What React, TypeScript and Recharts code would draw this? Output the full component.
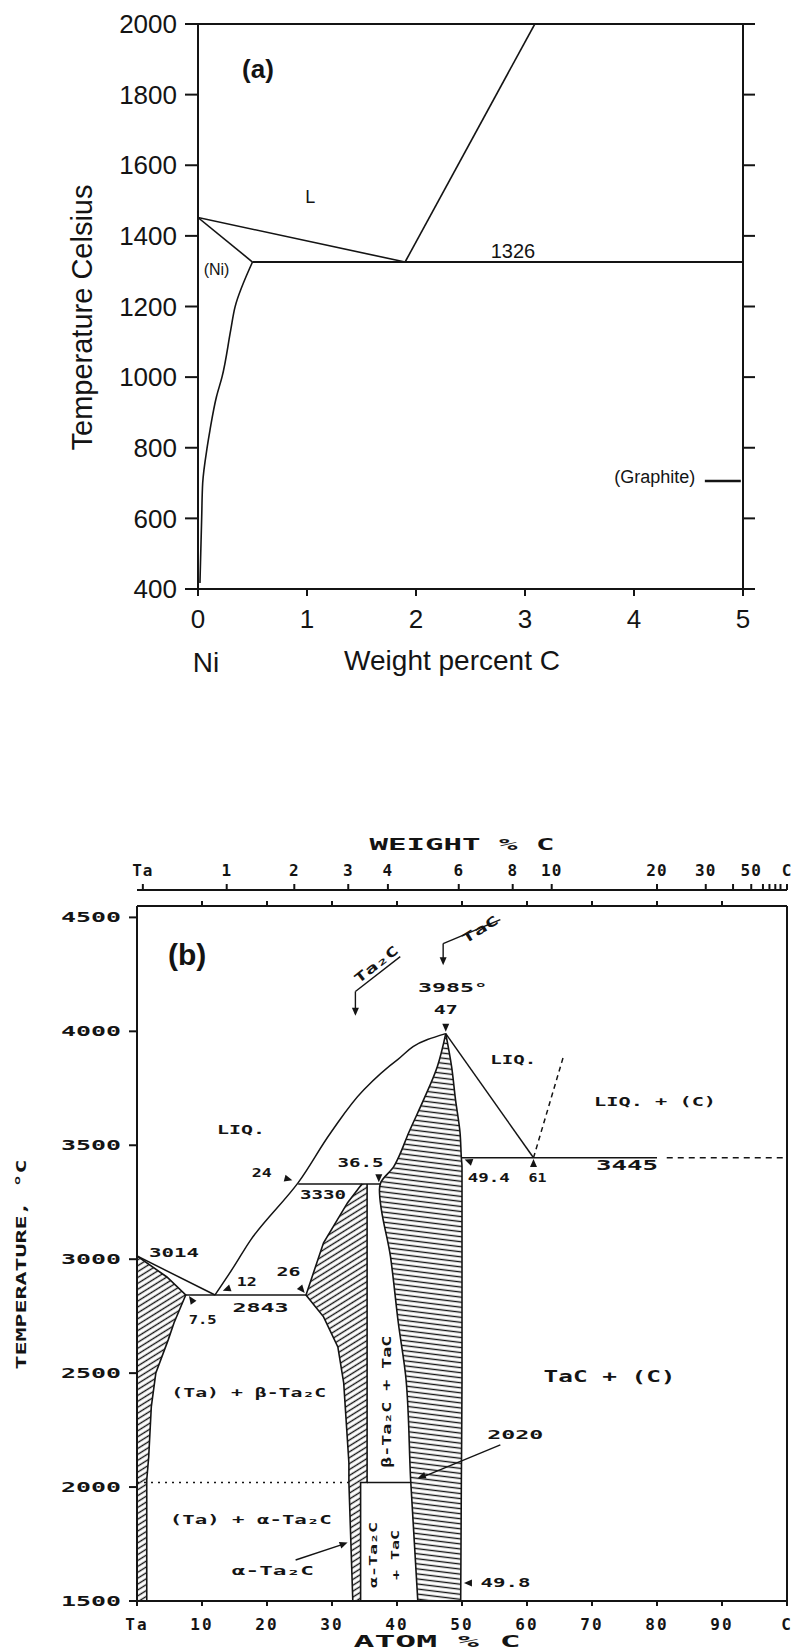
import React from "react";
import {
  ComposedChart,
  Line,
  Area,
  XAxis,
  YAxis,
  ReferenceLine,
  ReferenceDot,
} from "recharts";

const SANS = "'Liberation Sans', Arial, Helvetica, sans-serif";
const LETTER = "'DejaVu Sans Mono', monospace";
const INK = "#141414";

// ---------- (a) Ni–C, weight percent C ----------
const niWtTicks = [0, 1, 2, 3, 4, 5];
const niTopTicks = [1, 2, 3, 4];
const niTempTicks = [400, 600, 800, 1000, 1200, 1400, 1600, 1800, 2000];

const niLiquidus = [{ x: 0, T: 1452 }, { x: 1.9, T: 1326 }];
const niSolidus = [{ x: 0, T: 1452 }, { x: 0.5, T: 1326 }];
// (Ni) solvus, read bottom to top
const niSolvus = [
  { x: 0.018, T: 417 },
  { x: 0.034, T: 605 },
  { x: 0.043, T: 700 },
  { x: 0.085, T: 803 },
  { x: 0.11, T: 850 },
  { x: 0.17, T: 945 },
  { x: 0.22, T: 1000 },
  { x: 0.3, T: 1133 },
  { x: 0.34, T: 1199 },
  { x: 0.5, T: 1326 },
];
const niGraphiteLiquidus = [{ x: 1.9, T: 1326 }, { x: 3.09, T: 2000 }];
const niEutectic = [{ x: 0.5, T: 1326 }, { x: 5, T: 1326 }];
const niGraphiteArrow = [{ x: 4.65, T: 706 }, { x: 4.98, T: 706 }];

// ---------- (b) Ta–C, atom percent C ----------
const taAtomTicks = [0, 10, 20, 30, 40, 50, 60, 70, 80, 90, 100];
const taAtomLabels = ["Ta", "10", "20", "30", "40", "50", "60", "70", "80", "90", "C"];
const taTempTicks = [1500, 2000, 2500, 3000, 3500, 4000, 4500];
// weight-% scale drawn on top, positioned in atom %
const taWeightPos = [0.9, 13.8, 24.2, 32.5, 38.6, 49.5, 57.8, 63.8, 80, 87.5, 94.5, 100];
const taWeightLabels = ["Ta", "1", "2", "3", "4", "6", "8", "10", "20", "30", "50", "C"];
const taWeightMinor = [91.7, 96.3, 97.3, 98.2, 99];

// hatched single-phase fields: [T, left at.%, right at.%]
const taSolidBand = [
  [1500, 0, 1.5], [2031, 0, 1.5], [2132, 0, 1.8], [2352, 0, 2.2], [2501, 0, 2.9],
  [2646, 0, 4.8], [2721, 0, 5.7], [2843, 0, 7.5], [2922, 0, 4.6], [3014, 0, 0],
];
const ta2CBand = [
  [1500, 33.2, 34.4], [2020, 32.6, 34.4], [2020, 32.6, 35.4], [2106, 32.6, 35.4],
  [2457, 31.8, 35.4], [2615, 30.9, 35.4], [2747, 28.7, 35.4], [2843, 26, 35.4],
  [3072, 28.7, 35.4], [3248, 32.4, 35.4], [3330, 34.6, 35.4],
];
const taCBand = [
  [1500, 43.2, 49.8], [2031, 42.1, 49.9], [2470, 41.4, 50], [2721, 40.2, 50],
  [3011, 39, 50], [3305, 37.3, 50], [3336, 37.5, 50], [3406, 39.5, 50],
  [3445, 40.2, 49.9], [3555, 41.8, 49.7], [3700, 44.1, 49], [3845, 46.2, 48.4],
  [3990, 47.5, 47.5],
];

// boundary lines: [at.%, T]
const taLiquidusTa = [[0, 3014], [12, 2843]];
const taLiquidusMain = [
  [12, 2843], [14.9, 2967], [17.5, 3085], [24.8, 3336], [29.8, 3555],
  [34.9, 3744], [40.1, 3876], [44.7, 3964], [47.5, 3990],
];
const taLiquidusC = [[47.5, 3990], [61, 3445]];
const taGraphiteLiquidus = [[61, 3445], [65.6, 3889]];
const taEutectic2843 = [[7.5, 2843], [26, 2843]];
const taPeritectic3330 = [[24.8, 3330], [37.4, 3330]];
const taEutectic3445 = [[49.9, 3445], [80, 3445]];
const taEutectic3445Ext = [[81.5, 3445], [100, 3445]];
const taTie2020 = [[35.4, 2020], [42.1, 2020]];
const taTransition2020 = [[0, 2020], [32.6, 2020]];

type Note = { x: number; y: number; text: string; size: number; w?: number; angle?: number; bold?: boolean };

const niNotes: Note[] = [
  { x: 0.55, y: 1872, text: "(a)", size: 26, bold: true },
  { x: 1.03, y: 1510, text: "L", size: 18 },
  { x: 0.17, y: 1306, text: "(Ni)", size: 16 },
  { x: 2.89, y: 1358, text: "1326", size: 20 },
  { x: 4.19, y: 717, text: "(Graphite)", size: 18 },
];

const taNotes: Note[] = [
  { x: 16.0, y: 3568, text: "LIQ.", size: 13, w: 48 },
  { x: 19.2, y: 3382, text: "24", size: 13, w: 20 },
  { x: 28.6, y: 3283, text: "3330", size: 13, w: 46 },
  { x: 34.4, y: 3424, text: "36.5", size: 13, w: 46 },
  { x: 5.7, y: 3030, text: "3014", size: 13, w: 50 },
  { x: 16.9, y: 2903, text: "12", size: 13, w: 20 },
  { x: 23.3, y: 2947, text: "26", size: 13, w: 24 },
  { x: 19.0, y: 2787, text: "2843", size: 13, w: 56 },
  { x: 10.1, y: 2734, text: "7.5", size: 13, w: 28 },
  { x: 17.2, y: 2413, text: "(Ta) + β-Ta₂C", size: 12, w: 155 },
  { x: 38.5, y: 2374, text: "β-Ta₂C + TaC", size: 12, w: 132, angle: -90 },
  { x: 58.2, y: 2229, text: "2020", size: 13, w: 56 },
  { x: 72.7, y: 2484, text: "TaC + (C)", size: 15, w: 132 },
  { x: 17.5, y: 1856, text: "(Ta) + α-Ta₂C", size: 12, w: 162 },
  { x: 20.9, y: 1636, text: "α-Ta₂C", size: 13, w: 82 },
  { x: 36.4, y: 1702, text: "α-Ta₂C", size: 11, w: 66, angle: -90 },
  { x: 39.8, y: 1702, text: "+ TaC", size: 11, w: 50, angle: -90 },
  { x: 56.7, y: 1579, text: "49.8", size: 13, w: 50 },
  { x: 57.9, y: 3876, text: "LIQ.", size: 13, w: 46 },
  { x: 79.7, y: 3691, text: "LIQ. + (C)", size: 13, w: 122 },
  { x: 75.4, y: 3415, text: "3445", size: 14, w: 62 },
  { x: 61.6, y: 3358, text: "61", size: 13, w: 18 },
  { x: 54.1, y: 3358, text: "49.4", size: 13, w: 42 },
  { x: 47.5, y: 4096, text: "47", size: 13, w: 24 },
  { x: 48.6, y: 4192, text: "3985°", size: 13, w: 70 },
  { x: 52.8, y: 4447, text: "TaC", size: 13, w: 40, angle: -32 },
  { x: 36.8, y: 4293, text: "Ta₂C", size: 13, w: 52, angle: -38 },
];

const taArrowHeads = [
  { x: 23.9, y: 3347, dir: 15 },
  { x: 37.2, y: 3338, dir: 90 },
  { x: 13.2, y: 2862, dir: 160 },
  { x: 25.8, y: 2852, dir: 50 },
  { x: 8.0, y: 2838, dir: 235 },
  { x: 47.5, y: 3998, dir: 90 },
  { x: 61, y: 3440, dir: 270 },
  { x: 50.4, y: 3437, dir: 200 },
  { x: 50.3, y: 1579, dir: 180 },
  { x: 32.4, y: 1757, dir: -20 },
  { x: 43.2, y: 2040, dir: 160 },
  { x: 33.6, y: 4068, dir: 90 },
  { x: 47.1, y: 4290, dir: 90 },
];

const taLeaders = [
  [[33.6, 4175], [33.6, 4078]],
  [[33.6, 4175], [40.5, 4328]],
  [[47.1, 4385], [47.1, 4300]],
  [[47.1, 4385], [55.9, 4490]],
  [[24.4, 1680], [32.0, 1752]],
  [[55.9, 2185], [44.0, 2045]],
];

const pts = (rows: number[][]) => rows.map(([x, T]) => ({ x, T }));
const band = (rows: number[][]) => rows.map(([T, lo, hi]) => ({ T, r: [lo, hi] }));

function noteShape(n: Note, family: string, boldDefault: boolean) {
  return (p: any) => {
    const cx = p.cx;
    const cy = p.cy;
    const bold = n.bold ?? boldDefault;
    return (
      <text
        x={cx}
        y={cy}
        textAnchor="middle"
        dominantBaseline="central"
        fontFamily={family}
        fontSize={n.size}
        fontWeight={bold ? 700 : 400}
        fill={INK}
        textLength={n.w}
        lengthAdjust={n.w ? "spacingAndGlyphs" : undefined}
        transform={n.angle ? `rotate(${n.angle} ${cx} ${cy})` : undefined}
      >
        {n.text}
      </text>
    );
  };
}

function arrowShape(dir: number) {
  return (p: any) => (
    <polygon
      points="0,0 -8,-3.5 -8,3.5"
      fill={INK}
      transform={`translate(${p.cx} ${p.cy}) rotate(${dir})`}
    />
  );
}

function HatchDefs() {
  return (
    <svg width={0} height={0} style={{ position: "absolute" }}>
      <defs>
        <pattern id="hatchSlant" width="5" height="5" patternUnits="userSpaceOnUse" patternTransform="rotate(-32)">
          <rect width="5" height="5" fill="#fff" />
          <line x1="0" y1="2.5" x2="5" y2="2.5" stroke={INK} strokeWidth="1.4" />
        </pattern>
        <pattern id="hatchFlat" width="8" height="5" patternUnits="userSpaceOnUse" patternTransform="rotate(7)">
          <rect width="8" height="5" fill="#fff" />
          <line x1="0" y1="2.5" x2="8" y2="2.5" stroke={INK} strokeWidth="1.4" />
        </pattern>
      </defs>
    </svg>
  );
}

// ---------- axis titles ----------
const niXTitle = (p: any) => {
  const vb = p.viewBox ?? { x: 198, y: 589, width: 545, height: 40 };
  return (
    <g fontFamily={SANS} fontSize={28} fill={INK}>
      <text x={vb.x + 8} y={vb.y + 73} textAnchor="middle" dominantBaseline="central">Ni</text>
      <text x={vb.x + 254} y={vb.y + 71} textAnchor="middle" dominantBaseline="central">Weight percent C</text>
    </g>
  );
};

const niYTitle = (p: any) => {
  const vb = p.viewBox ?? { x: 0, y: 24, width: 198, height: 565 };
  const cx = 82;
  const cy = vb.y + vb.height / 2 + 11;
  return (
    <text x={cx} y={cy} textAnchor="middle" dominantBaseline="central" fontFamily={SANS} fontSize={29}
      fill={INK} transform={`rotate(-90 ${cx} ${cy})`}>
      Temperature Celsius
    </text>
  );
};

const taTempTitle = (p: any) => {
  const vb = p.viewBox ?? { x: 0, y: 76, width: 137, height: 695 };
  const cx = 21;
  const cy = vb.y + vb.height / 2 + 11;
  return (
    <text x={cx} y={cy} textAnchor="middle" dominantBaseline="central" fontFamily={LETTER} fontWeight={700}
      fontSize={14} fill={INK} textLength={210} lengthAdjust="spacingAndGlyphs" transform={`rotate(-90 ${cx} ${cy})`}>
      TEMPERATURE, °C
    </text>
  );
};

const taAtomTitle = (p: any) => {
  const vb = p.viewBox ?? { x: 137, y: 771, width: 650, height: 45 };
  return (
    <text x={vb.x + 300} y={vb.y + 40} textAnchor="middle" dominantBaseline="central" fontFamily={LETTER}
      fontWeight={700} fontSize={16} fill={INK} textLength={167} lengthAdjust="spacingAndGlyphs">
      ATOM % C
    </text>
  );
};

const taWeightTitle = (p: any) => {
  const vb = p.viewBox ?? { x: 137, y: 30, width: 650, height: 30 };
  return (
    <text x={vb.x + 325} y={vb.y - 15} textAnchor="middle" dominantBaseline="central" fontFamily={LETTER}
      fontWeight={700} fontSize={15} fill={INK} textLength={185} lengthAdjust="spacingAndGlyphs">
      WEIGHT % C
    </text>
  );
};

// ---------- custom ticks for (b) ----------
const atomTick = (p: any) => {
  const i = taAtomTicks.indexOf(p.payload.value);
  return (
    <text x={p.x} y={p.y} dy="0.8em" textAnchor="middle" fontFamily={LETTER} fontWeight={700} fontSize={16}
      letterSpacing={2} fill={INK}>
      {i >= 0 ? taAtomLabels[i] : ""}
    </text>
  );
};

const tempTick = (p: any) => (
  <text x={p.x} y={p.y} textAnchor="end" dominantBaseline="central" fontFamily={LETTER} fontWeight={700}
    fontSize={14} fill={INK} textLength={60} lengthAdjust="spacingAndGlyphs">
    {p.payload.value}
  </text>
);

const weightTick = (p: any) => {
  const i = taWeightPos.indexOf(p.payload.value);
  if (i < 0) return <g />;
  return (
    <text x={p.x} y={p.y} textAnchor="middle" fontFamily={LETTER} fontWeight={700} fontSize={16}
      letterSpacing={1} fill={INK}>
      {taWeightLabels[i]}
    </text>
  );
};

function NiChart() {
  const lineProps = { stroke: INK, strokeWidth: 1.6, dot: false, isAnimationActive: false, dataKey: "T" };
  return (
    <ComposedChart width={802} height={700} margin={{ top: 4, right: 29, bottom: 71, left: 0 }}>
      <XAxis xAxisId={0} type="number" dataKey="x" domain={[0, 5]} ticks={niWtTicks} interval={0}
        allowDataOverflow height={40} tickSize={7} tickMargin={14} stroke={INK} strokeWidth={2}
        tick={{ fontSize: 26, fill: INK, fontFamily: SANS }} label={{ content: niXTitle }} />
      <XAxis xAxisId="top" orientation="top" type="number" domain={[0, 5]} ticks={niTopTicks} interval={0}
        allowDataOverflow height={20} tickSize={8} tickFormatter={() => ""} stroke={INK} strokeWidth={2} />
      <YAxis yAxisId={0} type="number" domain={[400, 2000]} ticks={niTempTicks} interval={0} allowDataOverflow
        width={198} tickSize={13} tickMargin={8} stroke={INK} strokeWidth={2}
        tick={{ fontSize: 26, fill: INK, fontFamily: SANS }} label={{ content: niYTitle }} />
      <YAxis yAxisId="r" orientation="right" type="number" domain={[400, 2000]} ticks={niTempTicks} interval={0}
        allowDataOverflow width={30} tickSize={12} tickFormatter={() => ""} stroke={INK} strokeWidth={2} />

      <Line data={niLiquidus} {...lineProps} />
      <Line data={niSolidus} {...lineProps} />
      <Line data={niSolvus} {...lineProps} type="monotoneY" />
      <Line data={niGraphiteLiquidus} {...lineProps} />
      <Line data={niEutectic} {...lineProps} strokeWidth={2} />
      <Line data={niGraphiteArrow} {...lineProps} strokeWidth={2.5} />

      {niNotes.map((n, i) => (
        <ReferenceDot key={`na${i}`} x={n.x} y={n.y} r={0} ifOverflow="visible"
          shape={noteShape(n, SANS, false)} />
      ))}
    </ComposedChart>
  );
}

function TaChart() {
  const lineProps = { stroke: INK, strokeWidth: 1.5, dot: false, isAnimationActive: false, dataKey: "x" };
  const areaProps = { stroke: INK, strokeWidth: 1.6, fillOpacity: 1, isAnimationActive: false, dataKey: "r" };
  return (
    <ComposedChart layout="vertical" width={802} height={822} margin={{ top: 30, right: 5, bottom: 6, left: 0 }}>
      <XAxis xAxisId={0} type="number" domain={[0, 100]} ticks={taAtomTicks} interval={0} allowDataOverflow
        height={45} tickSize={5} tickMargin={11} stroke={INK} strokeWidth={2} tick={atomTick}
        label={{ content: taAtomTitle }} />
      <XAxis xAxisId="edge" orientation="top" type="number" domain={[0, 100]} ticks={taAtomTicks.slice(1, -1)}
        interval={0} allowDataOverflow height={16} tickSize={5} tickFormatter={() => ""} stroke={INK} strokeWidth={2} />
      <XAxis xAxisId="wt" orientation="top" type="number" domain={[0, 100]}
        ticks={[...taWeightPos, ...taWeightMinor]} interval={0} allowDataOverflow height={30} tickSize={6}
        tickMargin={8} stroke={INK} strokeWidth={2} tick={weightTick} label={{ content: taWeightTitle }} />
      <YAxis yAxisId={0} type="number" dataKey="T" domain={[1500, 4550]} reversed ticks={taTempTicks} interval={0}
        allowDataOverflow width={137} tickSize={8} tickMargin={8} stroke={INK} strokeWidth={2} tick={tempTick}
        label={{ content: taTempTitle }} />
      <YAxis yAxisId="r" orientation="right" type="number" domain={[1500, 4550]} reversed allowDataOverflow
        width={10} tick={false} tickLine={false} stroke={INK} strokeWidth={2} />

      <Area data={band(taSolidBand)} fill="url(#hatchSlant)" {...areaProps} />
      <Area data={band(ta2CBand)} fill="url(#hatchSlant)" {...areaProps} />
      <Area data={band(taCBand)} fill="url(#hatchFlat)" {...areaProps} type="monotone" />

      <Line data={pts(taLiquidusTa)} {...lineProps} />
      <Line data={pts(taLiquidusMain)} {...lineProps} type="monotone" />
      <Line data={pts(taLiquidusC)} {...lineProps} />
      <Line data={pts(taGraphiteLiquidus)} {...lineProps} strokeDasharray="5 4" />
      <Line data={pts(taEutectic2843)} {...lineProps} />
      <Line data={pts(taPeritectic3330)} {...lineProps} />
      <Line data={pts(taEutectic3445)} {...lineProps} />
      <Line data={pts(taEutectic3445Ext)} {...lineProps} strokeDasharray="6 5" />
      <Line data={pts(taTie2020)} {...lineProps} />
      <Line data={pts(taTransition2020)} {...lineProps} strokeDasharray="2 5" />

      {taLeaders.map((s, i) => (
        <ReferenceLine key={`ld${i}`} segment={[{ x: s[0][0], y: s[0][1] }, { x: s[1][0], y: s[1][1] }]}
          stroke={INK} strokeWidth={1.4} ifOverflow="visible" />
      ))}
      {taArrowHeads.map((a, i) => (
        <ReferenceDot key={`ah${i}`} x={a.x} y={a.y} r={0} ifOverflow="visible" shape={arrowShape(a.dir)} />
      ))}
      <ReferenceDot x={7.7} y={4337} r={0} ifOverflow="visible"
        shape={noteShape({ x: 7.7, y: 4337, text: "(b)", size: 30, bold: true }, SANS, true)} />
      {taNotes.map((n, i) => (
        <ReferenceDot key={`nb${i}`} x={n.x} y={n.y} r={0} ifOverflow="visible"
          shape={noteShape(n, LETTER, true)} />
      ))}
    </ComposedChart>
  );
}

export default function App() {
  return (
    <div style={{ position: "absolute", left: 0, top: 0, width: 802, height: 1652, background: "#fff" }}>
      <HatchDefs />
      <div style={{ position: "absolute", left: 0, top: 0 }}>
        <NiChart />
      </div>
      <div style={{ position: "absolute", left: 0, top: 830 }}>
        <TaChart />
      </div>
    </div>
  );
}
